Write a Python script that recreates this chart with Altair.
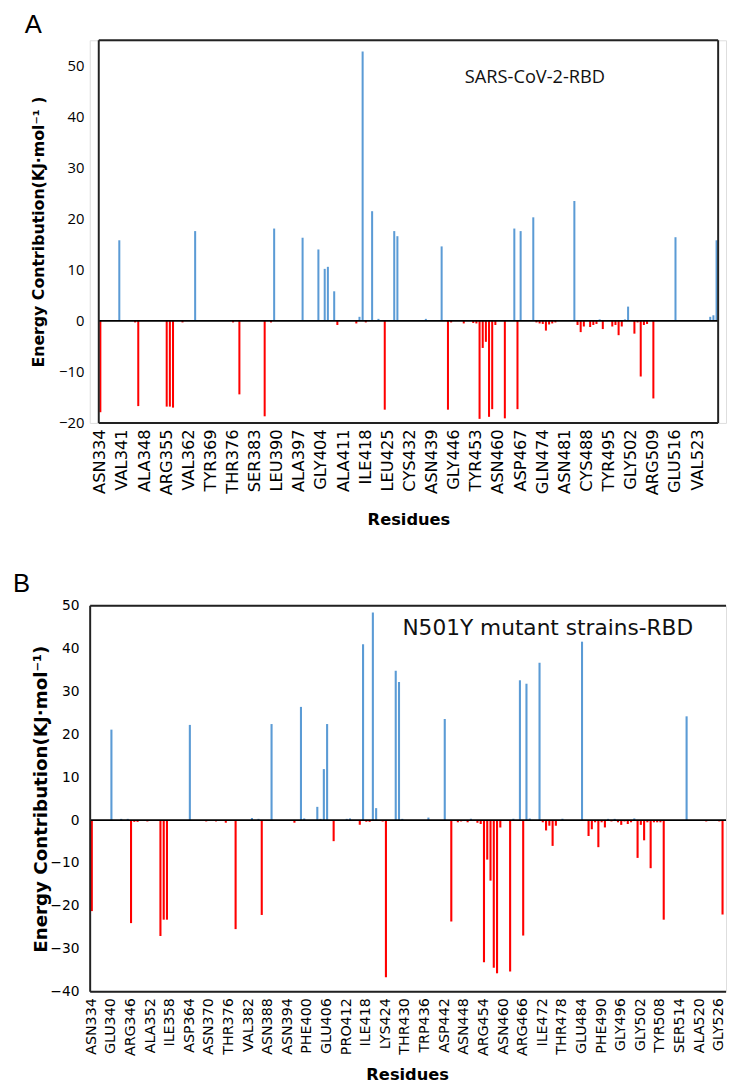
import altair as alt
import pandas as pd

START = 334
# RBD sequence, residues 334-529 (one-letter code), groups of 7
SEQ = ("NLCPFGE" "VFNATRF" "ASVYAWN" "RKRISNC" "VADYSVL" "YNSASFS" "TFKCYGV"
       "SPTKLND" "LCFTNVY" "ADSFVIR" "GDEVRQI" "APGQTGK" "IADYNYK" "LPDDFTG"
       "CVIAWNS" "NNLDSKV" "GGNYNYL" "YRLFRKS" "NLKPFER" "DISTEIY" "QAGSTPC"
       "NGVEGFN" "CYFPLQS" "YGFQPTN" "GVGYQPY" "RVVVLSF" "ELLHAPA" "TVCGPKK")
THREE = {"A": "ALA", "R": "ARG", "N": "ASN", "D": "ASP", "C": "CYS", "Q": "GLN",
         "E": "GLU", "G": "GLY", "H": "HIS", "I": "ILE", "L": "LEU", "K": "LYS",
         "M": "MET", "F": "PHE", "P": "PRO", "S": "SER", "T": "THR", "W": "TRP",
         "Y": "TYR", "V": "VAL"}

ticks_A = ["ASN334", "VAL341", "ALA348", "ARG355", "VAL362", "TYR369", "THR376",
           "SER383", "LEU390", "ALA397", "GLY404", "ALA411", "ILE418", "LEU425",
           "CYS432", "ASN439", "GLY446", "TYR453", "ASN460", "ASP467", "GLN474",
           "ASN481", "CYS488", "TYR495", "GLY502", "ARG509", "GLU516", "VAL523"]
ticks_B = ["ASN334", "GLU340", "ARG346", "ALA352", "ILE358", "ASP364", "ASN370",
           "THR376", "VAL382", "ASN388", "ASN394", "PHE400", "GLU406", "PRO412",
           "ILE418", "LYS424", "THR430", "TRP436", "ASP442", "ASN448", "ARG454",
           "ASN460", "ARG466", "ILE472", "THR478", "GLU484", "PHE490", "GLY496",
           "GLY502", "TYR508", "SER514", "ALA520", "GLY526"]

# Panel A: SARS-CoV-2-RBD, residues 334-529 (rows of 7)
energy_A = [
    -17.9, 0, 0, 0, 0, 0, 15.8,
    0, 0, 0, 0, -0.3, -16.7, 0,
    0, 0, 0, 0, 0, 0, 0,
    -16.8, -16.8, -17.0, 0, 0, -0.3, 0,
    0, 0, 17.6, 0, 0, 0, 0,
    0, 0, 0, 0, 0, 0, 0,
    -0.3, 0, -14.4, 0, 0, 0, 0,
    0, 0, 0, -18.7, 0, -0.3, 18.1,
    0, 0, 0, 0, 0, 0, 0,
    0, 16.3, 0, 0, 0, 0, 14.0,
    0, 10.2, 10.6, 0, 5.8, -0.8, 0,
    0, 0, 0, 0, -0.5, 0.8, 52.8,
    -0.3, 0, 21.5, 0, 0.4, 0, -17.4,
    0, 0, 17.6, 16.6, 0, 0, 0,
    0, 0, 0, 0, 0, 0.4, 0,
    0, 0, 0, 14.6, 0, -17.4, -0.3,
    0, 0, 0, -0.5, 0, 0, -0.4,
    -0.5, -19.2, -5.3, -4.1, -18.8, -17.3, -0.8,
    0, 0, -19.1, 0, 0, 18.1, -17.3,
    17.6, 0, 0, 0, 20.3, -0.3, -0.5,
    -0.6, -1.9, -0.7, -0.5, -0.3, 0, 0,
    0, 0, 0, 23.5, -0.8, -2.2, -1.1,
    0, -1.2, -0.8, -0.6, 0.3, -1.6, 0,
    0, -1.1, -0.8, -2.8, -1.1, 0.3, 2.8,
    0, -2.5, -0.3, -10.9, -0.8, -0.6, 0,
    -15.2, 0, 0, 0, 0, 0, 0,
    16.4, 0, 0, 0, 0, 0, 0,
    0, 0, 0, 0, 0.8, 1.1, 15.8,
]

# Panel B: N501Y mutant RBD, residues 334-527 (rows of 6)
energy_B = [
    -21.2, 0, 0, 0, 0, 0,
    21.1, 0, 0, 0.3, 0, 0.3,
    -24.0, -0.4, -0.4, 0, 0, -0.3,
    0, 0, 0, -27.0, -23.2, -23.2,
    0, 0, 0, 0, 0, 0,
    22.2, 0, 0, 0, 0, -0.3,
    0, 0, -0.3, 0, 0, -0.6,
    0, 0, -25.4, 0, 0, 0,
    0, 0.5, 0, 0.3, -22.1, 0,
    0, 22.4, 0, 0, 0, 0,
    0, 0, -0.6, 0, 26.4, 0.4,
    0, 0, 0, 3.1, 0.3, 11.9,
    22.4, 0, -4.9, 0, 0, 0,
    0.3, 0.4, 0, 0, -1.1, 41.0,
    -0.4, -0.4, 48.4, 2.8, 0, -0.3,
    -36.6, 0, 0, 34.8, 32.2, 0.3,
    0, 0, 0, 0, 0, 0,
    0, 0.6, 0, 0, 0, 0,
    23.6, 0, -23.6, 0, -0.5, -0.3,
    0, -0.5, 0.3, 0, -0.6, -0.9,
    -33.1, -9.2, -14.1, -34.4, -35.7, -1.7,
    0, 0, -35.3, 0.3, 0, 32.6,
    -26.9, 31.8, 0.4, 0, 0, 36.7,
    -0.5, -2.4, -1.3, -6.0, -1.3, 0,
    0.3, 0, 0, 0, 0, 0,
    41.6, 0, -3.7, -2.1, -0.5, -6.3,
    -0.5, -1.7, 0.3, -0.3, 0.3, -0.5,
    -1.1, -0.3, -0.9, -0.5, 0.4, -8.8,
    -1.1, -4.7, -0.5, -11.2, -0.5, -0.5,
    -0.5, -23.2, 0, 0, 0, 0,
    0, 0, 24.2, 0, 0, 0,
    0, 0, -0.3, 0, 0, 0,
    -0.3, -22.0,
]

yticks_A = [-20, -10, 0, 10, 20, 30, 40, 50]
yticks_B = [-40, -30, -20, -10, 0, 10, 20, 30, 40, 50]

BLUE = "#5B9BD5"
RED = "#FF0000"
W = 646
VIEW_LEFT = 90    # page x of the common plot origin
TOP_A = 39.5      # page y of panel A plot top
TOP_B = 605       # page y of panel B plot top
ANCHOR = 45       # invisible anchor height above panel A plot
SHIFT = 8         # empirical layout offset of the first row


def residue_labels(n, ticks):
    tickmap = {int(t[3:]): t for t in ticks}
    return [tickmap.get(START + k, THREE[SEQ[k]] + str(START + k)) for k in range(n)]


def one():
    return pd.DataFrame({"v": [0]})


def panel(energy, ticks, letter, note, H, x0, x1, ydom, yvals, s, anchor=False):
    labels = residue_labels(len(energy), ticks)
    df = pd.DataFrame({"res": labels, "E": energy})
    xenc = alt.X(
        "res:N", sort=labels, title="Residues",
        scale=alt.Scale(range=[x0, x1], paddingInner=0.36, paddingOuter=0.18, round=False),
        axis=alt.Axis(values=ticks, labelAngle=270, labelAlign="right", labelBaseline="middle",
                      labelPadding=s["xlabpad"], ticks=False, domain=False, labelOverlap=False,
                      labelFont="DejaVu Sans", labelFontSize=s["xlabsize"], labelColor="#000",
                      titleFont="DejaVu Sans", titleFontWeight="bold", titleFontSize=s["xtitlesize"],
                      titleColor="#000", titlePadding=s["xtitlepad"]))
    yenc = alt.Y(
        "E:Q", scale=alt.Scale(domain=ydom, nice=False, zero=False),
        axis=alt.Axis(values=yvals, grid=False, domain=False, ticks=False,
                      labelPadding=s["ylabpad"], labelFont=s["ylabfont"], labelFontSize=s["ylabsize"],
                      labelColor="#000", title=s["ytitle"], titleFont="DejaVu Sans",
                      titleFontWeight="bold", titleFontSize=s["ytitlesize"], titleColor="#000",
                      titleAngle=270, titleAlign="center", titleBaseline="middle",
                      titleX=s["ytitlex"], titleY=H / 2))
    bars = alt.Chart(df).mark_bar().encode(
        x=xenc, y=yenc, y2=alt.datum(0),
        color=alt.condition(alt.datum.E > 0, alt.value(BLUE), alt.value(RED)))
    fr = s["frame_right"]
    fl = x0
    zero = alt.Chart(one()).mark_rule(color="#000", strokeWidth=1.6).encode(
        x=alt.value(fl), x2=alt.value(fr), y=alt.datum(0))
    layers = [bars, zero]
    layers.append(alt.Chart(one()).mark_rule(color="#222", strokeWidth=2).encode(
        x=alt.value(fl), x2=alt.value(fr), y=alt.value(0)))
    layers.append(alt.Chart(one()).mark_rule(color="#222", strokeWidth=2).encode(
        x=alt.value(fl), x2=alt.value(fr), y=alt.value(H)))
    layers.append(alt.Chart(one()).mark_rule(color="#222", strokeWidth=2).encode(
        x=alt.value(fl), y=alt.value(0), y2=alt.value(H)))
    if s["right_edge"]:
        layers.append(alt.Chart(one()).mark_rule(color="#222", strokeWidth=2).encode(
            x=alt.value(fr), y=alt.value(0), y2=alt.value(H)))
    layers.append(alt.Chart(one()).mark_text(
        text=letter, font="Liberation Sans", fontSize=26, align="left", baseline="alphabetic",
        color="#000").encode(x=alt.value(s["letter_x"]), y=alt.value(s["letter_y"])))
    layers.append(alt.Chart(one()).mark_text(
        text=note, font=s["notefont"], fontSize=s["notesize"], align="center", baseline="middle",
        color="#111").encode(x=alt.value(s["note_x"]), y=alt.value(s["note_y"])))
    if anchor:
        layers.append(alt.Chart(one()).mark_rule(opacity=0, strokeWidth=0.01).encode(
            x=alt.value(8 - VIEW_LEFT), x2=alt.value(9 - VIEW_LEFT),
            y=alt.value(-ANCHOR), y2=alt.value(-ANCHOR)))
    return alt.layer(*layers).properties(width=W, height=H)


sA = dict(xlabpad=6, xlabsize=16.5, xtitlesize=16.5, xtitlepad=17, ylabpad=6, ylabfont="Open Sans",
          ylabsize=15, ytitle="Energy Contribution(KJ·mol⁻¹ )", ytitlesize=16,
          ytitlex=38 - VIEW_LEFT, frame_right=728 - VIEW_LEFT, right_edge=True,
          letter_x=24 - VIEW_LEFT, letter_y=32 - TOP_A,
          notefont="Open Sans", notesize=18.5, note_x=542 - VIEW_LEFT, note_y=77 - TOP_A)
sB = dict(xlabpad=6, xlabsize=14.5, xtitlesize=16.5, xtitlepad=11, ylabpad=11, ylabfont="DejaVu Sans",
          ylabsize=14, ytitle="Energy Contribution(KJ·mol⁻¹)", ytitlesize=18.5, ytitlex=40 - VIEW_LEFT,
          frame_right=W, right_edge=False, letter_x=12 - VIEW_LEFT, letter_y=591 - TOP_B,
          notefont="DejaVu Sans", notesize=22, note_x=555 - VIEW_LEFT, note_y=628 - TOP_B)

HA = 388.5
HB = 392
pA = panel(energy_A, ticks_A, "A", "SARS-CoV-2-RBD", HA, 99.15 - VIEW_LEFT, 728 - VIEW_LEFT,
           [-20, 55], yticks_A, sA, anchor=True)
pB = panel(energy_B, ticks_B, "B", "N501Y mutant strains-RBD", HB, 90.43 - VIEW_LEFT,
           90.43 - VIEW_LEFT + 194 * 3.318, [-40, 50], yticks_B, sB)

chart = alt.vconcat(pA, pB, spacing=TOP_B - TOP_A - HA + SHIFT, bounds="flush").properties(
    padding={"left": 0, "top": TOP_A - 8 - SHIFT - ANCHOR, "right": 0, "bottom": 0}
).configure_view(stroke=None).configure(background="white")

chart.save("out.html", embed_options={"renderer": "svg", "actions": False})
